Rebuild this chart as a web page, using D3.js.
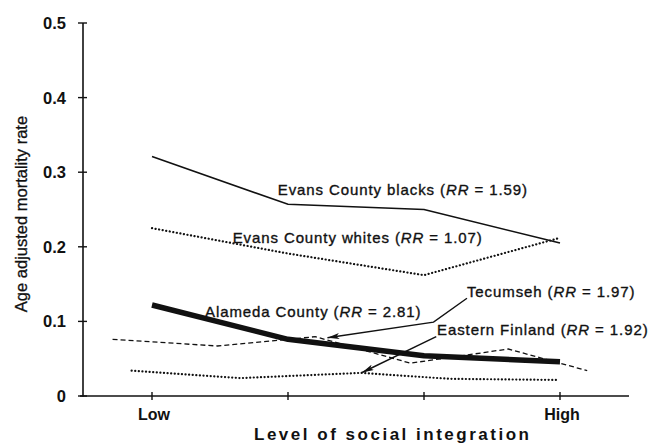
<!DOCTYPE html>
<html>
<head>
<meta charset="utf-8">
<script src="https://cdn.jsdelivr.net/npm/d3@7"></script>
<style>
  html, body { margin: 0; padding: 0; background: #fff; }
  svg { display: block; font-family: "Liberation Sans", Arial, Helvetica, sans-serif; }
</style>
</head>
<body>
<svg id="chart" width="648" height="444"></svg>
<script>
// ---- data ----
const categories = ["Low", "", "", "High"];
const yTicks = [0, 0.1, 0.2, 0.3, 0.4, 0.5];
const yTickLabels = ["0", "0.1", "0.2", "0.3", "0.4", "0.5"];

// x in category units (0 = Low ... 3 = High)
const evansBlacksX = [0, 1, 2, 3];
const evansBlacks = [0.321, 0.257, 0.250, 0.205];
const evansWhitesX = [0, 1, 2, 3];
const evansWhites = [0.225, 0.191, 0.162, 0.212];
const alamedaX = [0, 1, 2, 3];
const alameda = [0.122, 0.076, 0.054, 0.046];
const tecumsehX = [-0.29, 0.48, 1.20, 1.90, 2.62, 3.20];
const tecumseh = [0.076, 0.067, 0.0795, 0.044, 0.063, 0.034];
const finlandX = [-0.15, 0.65, 1.54, 2.19, 2.99];
const finland = [0.034, 0.024, 0.031, 0.023, 0.0215];

const seriesNames = ["Evans County blacks", "Evans County whites", "Alameda County", "Tecumseh", "Eastern Finland"];
const seriesRR = ["1.59", "1.07", "2.81", "1.97", "1.92"];

// ---- layout ----
const svg = d3.select("#chart");
const x = d3.scaleLinear().domain([0, 3]).range([152, 560]);
const y = d3.scaleLinear().domain([0, 0.5]).range([396, 23]);
const axisLeftX = 83;
const axisRightX = 629;

const ink = "#111";

// axes lines
svg.append("line").attr("x1", axisLeftX).attr("x2", axisLeftX)
  .attr("y1", y(0.5)).attr("y2", y(0) + 0.5)
  .attr("stroke", ink).attr("stroke-width", 1.6);
svg.append("line").attr("x1", axisLeftX - 3).attr("x2", axisRightX)
  .attr("y1", y(0)).attr("y2", y(0))
  .attr("stroke", ink).attr("stroke-width", 1.6);

// y ticks
const yg = svg.append("g");
yTicks.forEach((t, i) => {
  yg.append("line").attr("x1", axisLeftX - 5).attr("x2", axisLeftX + 4)
    .attr("y1", y(t)).attr("y2", y(t)).attr("stroke", ink).attr("stroke-width", 1.4);
  yg.append("text").attr("x", 66).attr("y", y(t)).attr("dy", "0.36em")
    .attr("text-anchor", "end").attr("font-size", 16.5).attr("font-weight", "bold")
    .attr("fill", ink).text(yTickLabels[i]);
});

// x ticks
const xg = svg.append("g");
categories.forEach((c, i) => {
  xg.append("line").attr("x1", x(i)).attr("x2", x(i))
    .attr("y1", y(0) - 4).attr("y2", y(0) + 4).attr("stroke", ink).attr("stroke-width", 1.4);
  if (c) {
    xg.append("text").attr("x", x(i) + 2).attr("y", 420)
      .attr("text-anchor", "middle").attr("font-size", 16).attr("font-weight", "bold")
      .attr("fill", ink).text(c);
  }
});

// axis titles
svg.append("text").attr("transform", `translate(27,${214}) rotate(-90)`)
  .attr("text-anchor", "middle").attr("font-size", 16.5).attr("fill", ink)
  .attr("stroke", ink).attr("stroke-width", 0.3)
  .text("Age adjusted mortality rate");
svg.append("text").attr("x", 254).attr("y", 440)
  .attr("font-size", 17).attr("font-weight", "bold").attr("fill", ink)
  .attr("textLength", 275).attr("lengthAdjust", "spacing")
  .text("Level of social integration");

// series
const line = d3.line().x(d => x(d[0])).y(d => y(d[1]));
function drawSeries(xs, ys, attrs) {
  const p = svg.append("path").datum(xs.map((v, i) => [v, ys[i]]))
    .attr("d", line).attr("fill", "none").attr("stroke", ink);
  Object.entries(attrs).forEach(([k, v]) => p.attr(k, v));
}
drawSeries(evansBlacksX, evansBlacks, {"stroke-width": 1.6});
drawSeries(evansWhitesX, evansWhites, {"stroke-width": 2.2, "stroke-dasharray": "0.1 3.5", "stroke-linecap": "round"});
drawSeries(finlandX, finland, {"stroke-width": 2.2, "stroke-dasharray": "0.1 3.5", "stroke-linecap": "round"});
drawSeries(tecumsehX, tecumseh, {"stroke-width": 1.3, "stroke-dasharray": "5 3"});
drawSeries(alamedaX, alameda, {"stroke-width": 5.5, "stroke-linejoin": "round"});

// arrow marker
svg.append("defs").append("marker").attr("id", "ah")
  .attr("viewBox", "0 0 12 6").attr("refX", 12).attr("refY", 3)
  .attr("markerWidth", 12).attr("markerHeight", 6).attr("markerUnits", "userSpaceOnUse")
  .attr("orient", "auto")
  .append("path").attr("d", "M0,0 L12,3 L0,6 L3,3 Z").attr("fill", ink);

// labels (positions in data units)
const labelPos = [
  {x: 0.925, y: 0.2695},
  {x: 0.593, y: 0.2051},
  {x: 0.39, y: 0.1059},
  {x: 2.316, y: 0.1327},
  {x: 2.096, y: 0.0818}
];
seriesNames.forEach((n, i) => {
  const t = svg.append("text").attr("x", x(labelPos[i].x)).attr("y", y(labelPos[i].y))
    .attr("font-size", 15).attr("letter-spacing", 0.9).attr("fill", ink)
    .attr("stroke", ink).attr("stroke-width", 0.35);
  t.append("tspan").text(n + " (");
  t.append("tspan").attr("font-style", "italic").text("RR");
  t.append("tspan").text(" = " + seriesRR[i] + ")");
});

// annotation arrows (data units)
const tecArrow = [[2.316, 0.131], [2.07, 0.099], [1.29, 0.078]];
const finArrow = [[2.09, 0.0795], [1.545, 0.0315]];
[tecArrow, finArrow].forEach(a => {
  svg.append("path").datum(a).attr("d", line).attr("fill", "none")
    .attr("stroke", ink).attr("stroke-width", 1.4).attr("marker-end", "url(#ah)");
});
</script>
</body>
</html>
